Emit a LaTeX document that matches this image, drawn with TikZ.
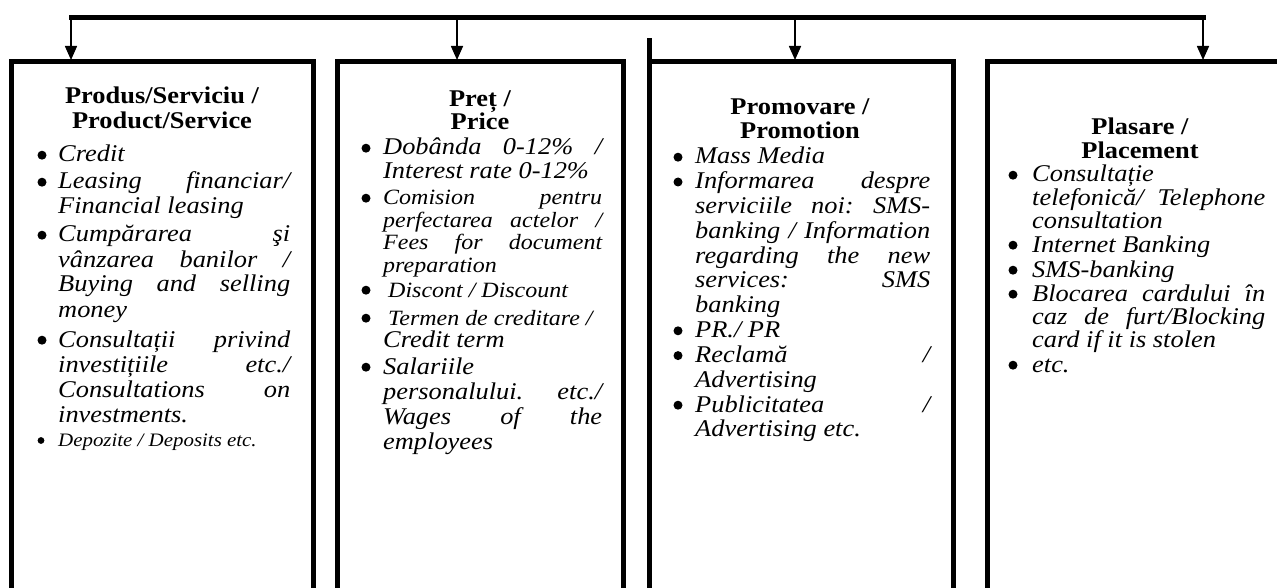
\documentclass[tikz,border=0pt]{standalone}
\usepackage{fontspec}
\setmainfont{Liberation Serif}[FakeStretch=1.1]
\usetikzlibrary{arrows.meta}
\newcommand{\JL}[1]{\hbox to\linewidth{#1}}
\newcommand{\LN}[1]{\hbox to\linewidth{#1\hfil}}
\newcommand{\fs}[2]{\fontsize{#1pt}{#2pt}\selectfont}
% bullet: node name, horizontal offset from text start
\newcommand{\bulat}[2]{\fill (#1.base west) ++(#2pt,6.8pt) circle (4.5pt);}
\newcommand{\sbulat}[2]{\fill (#1.base west) ++(#2pt,5.5pt) circle (3.4pt);}
\begin{document}
\begin{tikzpicture}[x=1pt,y=-1pt,
  frame/.style={line width=5pt,line join=miter},
  bar/.style={line width=5pt,line cap=rect},
  arr/.style={line width=1.6pt,-{Triangle[width=12pt,length=14pt]}},
  ttl/.style={inner sep=0pt,anchor=base,font=\bfseries},
  itm/.style={inner sep=0pt,anchor=base west,font=\itshape}]
\useasboundingbox (0,0) rectangle (1277,588);
\clip (0,0) rectangle (1277,588);
% top distribution bar and arrows
\coordinate (a1) at (71,18);
\coordinate (a2) at (457,18);
\coordinate (a3) at (795,18);
\coordinate (a4) at (1203,18);
\coordinate (e1) at (71,60);
\coordinate (e2) at (457,60);
\coordinate (e3) at (795,60);
\coordinate (e4) at (1203,60);
\draw[bar] (a1) -- (a4);
\draw[arr] (a1) -- (e1);
\draw[arr] (a2) -- (e2);
\draw[arr] (a3) -- (e3);
\draw[arr] (a4) -- (e4);
% frames
\draw[frame] (11,600) -- (11,62) -- (313,62) -- (313,600);
\draw[frame] (337,600) -- (337,62) -- (623,62) -- (623,600);
\draw[frame] (649,600) -- (649,38);
\draw[frame] (649,62) -- (953,62) -- (953,600);
\draw[frame] (987,600) -- (987,62) -- (1290,62);
% box 1
\node[ttl] (t1) at (162,104) {\fs{24}{25}\parbox[t]{300pt}{\centering Produs/Serviciu /\\Product/Service}};
\node[itm] (p1a) at (58,162) {\fs{24}{25}\parbox[t]{232pt}{\LN{Credit}}};
\node[itm] (p1b) at (58,189) {\fs{24}{25}\parbox[t]{232pt}{\JL{Leasing\hfill financiar/}\LN{Financial leasing}}};
\node[itm] (p1c) at (58,242) {\fs{24}{25}\parbox[t]{232pt}{\JL{Cumpărarea\hfill şi}\JL{vânzarea\hfill banilor\hfill /}\JL{Buying\hfill and\hfill selling}\LN{money}}};
\node[itm] (p1d) at (58,347) {\fs{24}{25}\parbox[t]{232pt}{\JL{Consultații\hfill privind}\JL{investițiile\hfill etc./}\JL{Consultations\hfill on}\LN{investments.}}};
\node[itm] (p1e) at (58,446) {\fs{19}{21}\parbox[t]{232pt}{\LN{Depozite / Deposits etc.}}};
\bulat{p1a}{-16}\bulat{p1b}{-16}\bulat{p1c}{-16}\bulat{p1d}{-16}\sbulat{p1e}{-17}
% box 2
\node[ttl] (t2) at (480,107) {\fs{24}{23}\parbox[t]{280pt}{\centering Preț /\\Price}};
\node[itm] (p2a) at (383,155) {\fs{24}{24}\parbox[t]{219pt}{\JL{Dobânda\hfill 0-12\%\hfill /}\LN{Interest rate 0-12\%}}};
\node[itm] (p2b) at (383,205) {\fs{21.8}{22.5}\parbox[t]{219pt}{\JL{Comision\hfill pentru}\JL{perfectarea\hfill actelor\hfill /}\JL{Fees\hfill for\hfill document}\LN{preparation}}};
\node[itm] (p2c) at (383,297) {\fs{21.8}{22}\parbox[t]{219pt}{\LN{\hskip5pt Discont / Discount}}};
\node[itm] (p2d) at (383,325) {\fs{21.8}{22}\parbox[t]{219pt}{\LN{\hskip5pt Termen de creditare /}\LN{\fs{24}{22}Credit term}}};
\node[itm] (p2e) at (383,374) {\fs{24}{25.3}\parbox[t]{219pt}{\LN{Salariile}\JL{personalului.\hfill etc./}\JL{Wages\hfill of\hfill the}\LN{employees}}};
\bulat{p2a}{-17}\bulat{p2b}{-17}\bulat{p2c}{-17}\bulat{p2d}{-17}\bulat{p2e}{-17}
% box 3
\node[ttl] (t3) at (800,115) {\fs{24}{24}\parbox[t]{300pt}{\centering Promovare /\\Promotion}};
\node[itm] (p3a) at (695,164) {\fs{24}{24.8}\parbox[t]{235pt}{\LN{Mass Media}}};
\node[itm] (p3b) at (695,188.8) {\fs{24}{24.8}\parbox[t]{235pt}{\JL{Informarea\hfill despre}\JL{serviciile\hfill noi:\hfill SMS-}\JL{banking\hfill/\hfill Information}\JL{regarding\hfill the\hfill new}\JL{services:\hfill SMS}\LN{banking}}};
\node[itm] (p3c) at (695,337.6) {\fs{24}{24.8}\parbox[t]{235pt}{\LN{PR./ PR}}};
\node[itm] (p3d) at (695,362.4) {\fs{24}{24.8}\parbox[t]{235pt}{\JL{Reclamă\hfill/}\LN{Advertising}}};
\node[itm] (p3e) at (695,412) {\fs{24}{24.8}\parbox[t]{235pt}{\JL{Publicitatea\hfill/}\LN{Advertising etc.}}};
\bulat{p3a}{-17}\bulat{p3b}{-17}\bulat{p3c}{-17}\bulat{p3d}{-17}\bulat{p3e}{-17}
% box 4
\node[ttl] (t4) at (1140,135) {\fs{24}{24}\parbox[t]{260pt}{\centering Plasare /\\Placement}};
\node[itm] (p4a) at (1032,182) {\fs{24}{23.3}\parbox[t]{233pt}{\LN{Consultație}\JL{telefonică/\hfill Telephone}\LN{consultation}}};
\node[itm] (p4b) at (1032,252) {\fs{24}{23.3}\parbox[t]{233pt}{\LN{Internet Banking}}};
\node[itm] (p4c) at (1032,277) {\fs{24}{23.3}\parbox[t]{233pt}{\LN{SMS-banking}}};
\node[itm] (p4d) at (1032,301) {\fs{24}{23.3}\parbox[t]{233pt}{\JL{Blocarea\hfill cardului\hfill în}\JL{caz\hfill de\hfill furt/Blocking}\LN{card if it is stolen}}};
\node[itm] (p4e) at (1032,372) {\fs{24}{23.3}\parbox[t]{233pt}{\LN{etc.}}};
\bulat{p4a}{-19}\bulat{p4b}{-19}\bulat{p4c}{-19}\bulat{p4d}{-19}\bulat{p4e}{-19}
\end{tikzpicture}
\end{document}
